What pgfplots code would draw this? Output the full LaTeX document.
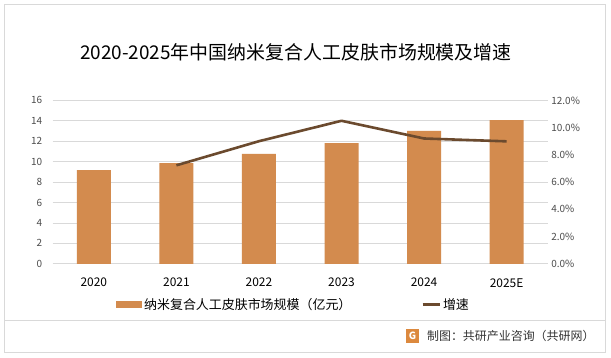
\documentclass[border=0pt]{standalone}
\usepackage{pgfplots}
\pgfplotsset{compat=1.18}
\usepackage{fontspec}
\setmainfont{Noto Sans CJK SC}
\definecolor{barc}{HTML}{D38B4E}
\definecolor{linec}{HTML}{6B4A2E}
\definecolor{gridc}{HTML}{D9D9D9}
\definecolor{framec}{HTML}{D9D9D9}
\begin{document}
\begin{tikzpicture}[x=1bp,y=1bp]
\fill[white] (0,0) rectangle (611,357);
\draw[framec, line width=1bp] (4.5,4.5) rectangle (605.5,352.5);
\draw[framec, line width=1bp] (4.5,37) -- (605.5,37);
\node[font=\fontsize{19}{22}\selectfont] at (296,305) {2020-2025年中国纳米复合人工皮肤市场规模及增速};
\begin{axis}[
  name=ax1,
  scale only axis, width=495.3bp, height=163.4bp,
  at={(63.7,91.3)}, anchor=south west,
  xmin=-0.5, xmax=5.5, ymin=0, ymax=16,
  ytick={0,2,...,16}, xtick={0,...,5},
  xticklabels={2020,2021,2022,2023,2024,2025E},
  ymajorgrids, grid style={gridc, line width=0.8bp},
  axis line style={draw=none}, major tick length=0,
  /pgf/number format/assume math mode=true,
  yticklabel style={font=\fontsize{10}{12}\selectfont, text=black!70, xshift=-7bp},
  xticklabel style={font=\fontsize{12}{14}\selectfont, text=black, yshift=-11bp},
  legend style={draw=none, fill=none, inner sep=0pt, at={(0.128,-0.251)}, anchor=west,
    font=\fontsize{13}{15}\selectfont, /tikz/every even column/.append style={column sep=68bp}},
  legend columns=2, legend cell align=left,
]
\addplot[ybar, bar width=34bp, fill=barc, draw=none,
  legend image code/.code={\fill[barc] (0bp,-3.5bp) rectangle (26bp,3.5bp);}] coordinates {
  (0,9.18) (1,9.86) (2,10.77) (3,11.82) (4,13.0) (5,14.07)
};
\addlegendentry{纳米复合人工皮肤市场规模（亿元）}
\addlegendimage{linec, line width=2.6bp}
\addlegendentry{增速}
\end{axis}
\begin{axis}[
  scale only axis, width=495.3bp, height=163.4bp,
  at={(ax1.south west)}, anchor=south west,
  xmin=-0.5, xmax=5.5, ymin=0, ymax=12,
  hide x axis, yticklabel pos=right,
  ytick={0,2,...,12},
  yticklabel={\pgfmathprintnumber[fixed,fixed zerofill,precision=1]{\tick}\%},
  axis line style={draw=none}, major tick length=0,
  /pgf/number format/assume math mode=true,
  yticklabel style={font=\fontsize{10}{12}\selectfont, text=black!70},
]
\addplot[linec, line width=2.6bp, line join=round] coordinates {
  (1,7.23) (2,9.0) (3,10.5) (4,9.2) (5,8.99)
};
\end{axis}
\fill[barc!80!orange] (406,14) rectangle (419,28);
\node[text=white, font=\bfseries\fontsize{10}{10}\selectfont] at (412.5,21) {G};
\node[anchor=east, font=\fontsize{12}{14}\selectfont, text=black!80] at (598,21) {制图：共研产业咨询（共研网）};
\end{tikzpicture}
\end{document}
